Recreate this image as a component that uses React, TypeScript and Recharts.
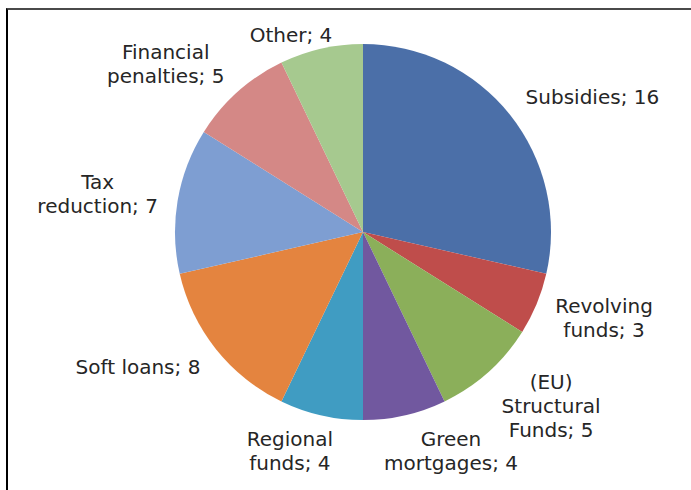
import React from "react";
import { PieChart, Pie, Cell } from "recharts";

// categories (line breaks follow the original label wrapping)
const categories = [
  "Subsidies",
  "Revolving\nfunds",
  "(EU)\nStructural\nFunds",
  "Green\nmortgages",
  "Regional\nfunds",
  "Soft loans",
  "Tax\nreduction",
  "Financial\npenalties",
  "Other",
];
const counts = [16, 3, 5, 4, 4, 8, 7, 5, 4];
const colors = [
  "#4b6fa8",
  "#bf4d4b",
  "#8baf5a",
  "#71589f",
  "#409cc2",
  "#e4843f",
  "#7e9ed2",
  "#d48886",
  "#a6c98f",
];

const data = categories.map((c, i) => ({ name: c, value: counts[i] }));

const FONT_SIZE = 20;
const LINE_H = 24;
const FONT = `${FONT_SIZE}px "DejaVu Sans", Verdana, sans-serif`;

let ctx: CanvasRenderingContext2D | null = null;
const measure = (s: string) => {
  if (!ctx) ctx = document.createElement("canvas").getContext("2d");
  if (!ctx) return s.length * FONT_SIZE * 0.6;
  ctx.font = FONT;
  return ctx.measureText(s).width;
};

// excel-ish outside labels: box sits just outside the slice's mid point
const renderLabel = (props: any) => {
  const { cx, cy, midAngle, outerRadius, name, value } = props;
  const rad = (midAngle * Math.PI) / 180;
  const sx = Math.cos(rad);
  const sy = -Math.sin(rad);
  const r = outerRadius + 20;
  const px = cx + r * sx;
  const py = cy + r * sy;
  const lines = `${name}; ${value}`.split("\n");
  const w = Math.max(...lines.map(measure));
  const h = lines.length * LINE_H;
  const k = Math.max(-1, Math.min(1, sx * 2.8));
  const xc = px + (k * w) / 2;
  let yc = py + (sy * h * 0.7) / 2;
  yc = Math.max(yc, 23 + h / 2);
  return (
    <text
      textAnchor="middle"
      dominantBaseline="central"
      fill="#262626"
      style={{ fontFamily: '"DejaVu Sans", Verdana, sans-serif', fontSize: FONT_SIZE }}
    >
      {lines.map((l, i) => (
        <tspan key={i} x={xc} y={yc - h / 2 + LINE_H * (i + 0.5)}>
          {l}
        </tspan>
      ))}
    </text>
  );
};

const App = () => {
  return (
    <div
      style={{
        position: "absolute",
        left: 0,
        top: 0,
        width: 691,
        height: 490,
        background: "#fff",
      }}
    >
      <div
        style={{
          position: "absolute",
          left: 6,
          top: 8,
          right: 0,
          bottom: 0,
          borderTop: "2px solid #4a4a4a",
          borderLeft: "2px solid #000",
        }}
      />
      <PieChart
        width={691}
        height={490}
        margin={{ top: 0, right: 0, bottom: 0, left: 0 }}
        style={{ position: "absolute", left: 0, top: 0 }}
      >
        <Pie
          data={data}
          dataKey="value"
          nameKey="name"
          cx={363}
          cy={232}
          outerRadius={188}
          startAngle={90}
          endAngle={-270}
          stroke="none"
          label={renderLabel}
          labelLine={false}
          isAnimationActive={false}
        >
          {data.map((d, i) => (
            <Cell key={d.name} fill={colors[i]} />
          ))}
        </Pie>
      </PieChart>
    </div>
  );
};

export default App;
